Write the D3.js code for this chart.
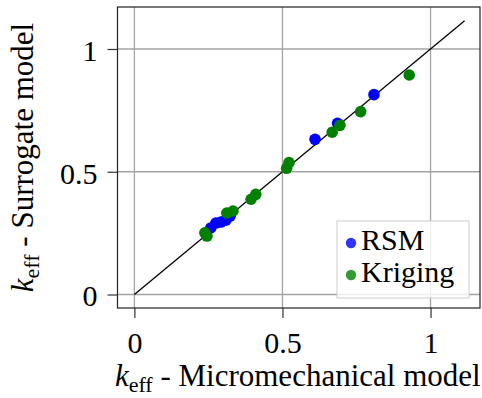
<!DOCTYPE html>
<html>
<head>
<meta charset="utf-8">
<script src="https://cdn.jsdelivr.net/npm/d3@7"></script>
<style>
  html, body { margin: 0; padding: 0; background: #fff; }
  svg { display: block; }
</style>
</head>
<body>
<svg id="chart" width="482" height="398"></svg>
<script>
// Effective property: micromechanical reference vs surrogate predictions
const rsmX = [0.809, 0.686, 0.610, 0.258, 0.275, 0.292, 0.309, 0.323];
const rsmY = [0.814, 0.697, 0.632, 0.271, 0.291, 0.295, 0.303, 0.319];
const krigX = [0.928, 0.764, 0.694, 0.668, 0.522, 0.514, 0.410, 0.394, 0.312, 0.333, 0.238, 0.245];
const krigY = [0.894, 0.745, 0.689, 0.661, 0.537, 0.514, 0.408, 0.388, 0.332, 0.340, 0.251, 0.238];
const tickValues = [0, 0.5, 1];
const tickLabels = ["0", "0.5", "1"];
const diagonalEnd = 1.115;
const seriesNames = ["RSM", "Kriging"];
const seriesColors = ["#0000ff", "#008000"];

const SERIF = "'Liberation Serif', 'Times New Roman', serif";
const svg = d3.select("#chart");
const plot = { left: 117.5, right: 480, top: 7, bottom: 308 };

const x = d3.scaleLinear().domain([-0.057, 1.167]).range([plot.left, plot.right]);
const y = d3.scaleLinear().domain([-0.055, 1.171]).range([plot.bottom, plot.top]);

// grid
const grid = svg.append("g").attr("stroke", "#a3a3a3").attr("stroke-width", 1.3);
grid.selectAll("line.gx").data(tickValues).join("line")
  .attr("x1", d => x(d)).attr("x2", d => x(d))
  .attr("y1", plot.top).attr("y2", plot.bottom);
grid.selectAll("line.gy").data(tickValues).join("line")
  .attr("x1", plot.left).attr("x2", plot.right)
  .attr("y1", d => y(d)).attr("y2", d => y(d));

// axes with outward ticks
const fmt = d => tickLabels[tickValues.indexOf(d)];
const xAxis = svg.append("g").attr("transform", `translate(0,${plot.bottom})`)
  .call(d3.axisBottom(x).tickValues(tickValues).tickFormat(fmt).tickSize(10).tickPadding(14));
const yAxis = svg.append("g").attr("transform", `translate(${plot.left},0)`)
  .call(d3.axisLeft(y).tickValues(tickValues).tickFormat(fmt).tickSize(10).tickPadding(10));
[xAxis, yAxis].forEach(a => {
  a.attr("font-family", null).attr("font-size", null);
  a.select(".domain").remove();
  a.selectAll(".tick line").attr("stroke", "#333").attr("stroke-width", 1.2);
  a.selectAll(".tick text")
    .style("font-family", SERIF).style("font-size", "30px").attr("fill", "#000");
});
yAxis.selectAll(".tick text").attr("dy", "0.38em");
xAxis.selectAll(".tick text").attr("dy", "0.7em");

// frame
svg.append("rect")
  .attr("x", plot.left).attr("y", plot.top)
  .attr("width", plot.right - plot.left).attr("height", plot.bottom - plot.top)
  .attr("fill", "none").attr("stroke", "#222").attr("stroke-width", 1.2);

// identity line
svg.append("line")
  .attr("x1", x(0)).attr("y1", y(0))
  .attr("x2", x(diagonalEnd)).attr("y2", y(diagonalEnd))
  .attr("stroke", "#000").attr("stroke-width", 1.3);

// points
const series = [
  { xs: rsmX, ys: rsmY, color: seriesColors[0] },
  { xs: krigX, ys: krigY, color: seriesColors[1] }
];
series.forEach(s => {
  svg.append("g").selectAll("circle")
    .data(s.xs.map((v, i) => [v, s.ys[i]]))
    .join("circle")
    .attr("cx", d => x(d[0])).attr("cy", d => y(d[1]))
    .attr("r", 5.8).attr("fill", s.color);
});

// legend
const legend = svg.append("g");
legend.append("rect")
  .attr("x", 337).attr("y", 221).attr("width", 132).attr("height", 77)
  .attr("fill", "#fff").attr("fill-opacity", 0.82)
  .attr("stroke", "#cccccc").attr("stroke-width", 1);
seriesNames.forEach((name, i) => {
  const cy = 243 + i * 32;
  legend.append("circle").attr("cx", 351).attr("cy", cy).attr("r", 5.2)
    .attr("fill", seriesColors[i]).attr("fill-opacity", 0.8);
  legend.append("text").attr("x", 361).attr("y", cy + 7)
    .style("font-family", SERIF).style("font-size", "30px").attr("fill", "#000")
    .text(name);
});

// axis titles
function keffLabel(sel, rest) {
  sel.style("font-family", SERIF).style("font-size", "31px").attr("fill", "#000");
  sel.append("tspan").attr("font-style", "italic").text("k");
  sel.append("tspan").style("font-size", "22px").attr("dy", 6).text("eff");
  sel.append("tspan").attr("dy", -6).text(" - " + rest);
}
svg.append("text")
  .attr("x", (plot.left + plot.right) / 2 - 1).attr("y", 386)
  .attr("text-anchor", "middle")
  .call(keffLabel, "Micromechanical model");
svg.append("text")
  .attr("transform", `translate(33,${(plot.top + plot.bottom) / 2}) rotate(-90)`)
  .attr("text-anchor", "middle")
  .call(keffLabel, "Surrogate model");
</script>
</body>
</html>
